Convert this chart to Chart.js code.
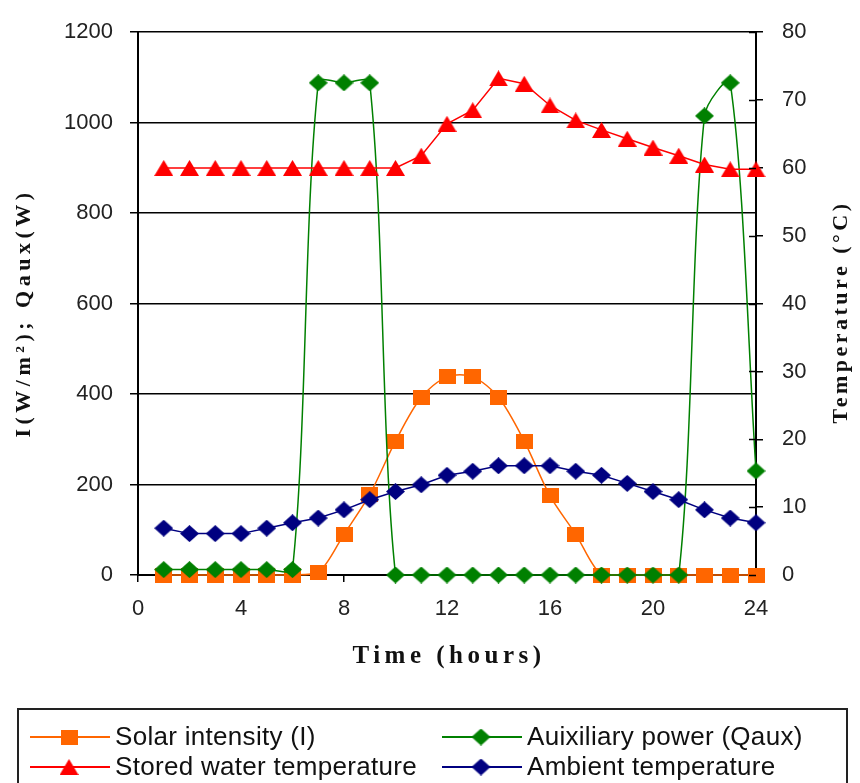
<!DOCTYPE html>
<html>
<head>
<meta charset="utf-8">
<script src="https://cdn.jsdelivr.net/npm/chart.js@4.4.1/dist/chart.umd.min.js"></script>
<style>
  html, body { margin: 0; padding: 0; background: #fff; }
  #wrap { width: 860px; height: 783px; position: relative; }
</style>
</head>
<body>
<div id="wrap"><canvas id="chart"></canvas></div>
<script>
// hours of the day
const hours = [1, 2, 3, 4, 5, 6, 7, 8, 9, 10, 11, 12, 13, 14, 15, 16, 17, 18, 19, 20, 21, 22, 23, 24];

// left axis, W/m2 and W
const solarIntensity = [0, 0, 0, 0, 0, 0, 5, 90, 178, 296, 393, 438, 438, 393, 296, 175, 90, 0, 0, 0, 0, 0, 0, 0];
const auxPower = [12, 12, 12, 12, 12, 12, 1088, 1088, 1088, 0, 0, 0, 0, 0, 0, 0, 0, 0, 0, 0, 0, 1015, 1088, 230];

// right axis, deg C
const storedWaterTemp = [60, 60, 60, 60, 60, 60, 60, 60, 60, 60, 61.8, 66.5, 68.5, 73.2, 72.4, 69.2, 67.0, 65.6, 64.3, 63.0, 61.8, 60.5, 59.8, 59.8];
const ambientTemp = [6.9, 6.1, 6.1, 6.1, 6.9, 7.7, 8.4, 9.6, 11.1, 12.3, 13.3, 14.7, 15.3, 16.1, 16.1, 16.1, 15.3, 14.7, 13.5, 12.3, 11.1, 9.6, 8.4, 7.7];

// axis ranges
const xRange = [0, 24, 4];
const powerRange = [0, 1200, 200];
const tempRange = [0, 80, 10];

const seriesNames = ['Solar intensity (I)', 'Auixiliary power (Qaux)', 'Stored water temperature', 'Ambient temperature'];

const toPoints = vals => hours.map((h, i) => ({ x: h, y: vals[i] }));

function marker(shape, w, h, color) {
  const c = document.createElement('canvas');
  c.width = w; c.height = h;
  const g = c.getContext('2d');
  g.fillStyle = color;
  g.beginPath();
  if (shape === 'square') {
    g.rect(0, 0, w, h);
  } else if (shape === 'diamond') {
    g.moveTo(w / 2, 0); g.lineTo(w, h / 2); g.lineTo(w / 2, h); g.lineTo(0, h / 2);
  } else {
    g.moveTo(w / 2, 0); g.lineTo(w, h); g.lineTo(0, h);
  }
  g.closePath();
  g.fill();
  return c;
}

const ORANGE = '#ff6600', GREEN = '#008000', RED = '#ff0000', NAVY = '#000080';

const markers = [
  marker('square', 17, 15, ORANGE),
  marker('diamond', 19, 17, GREEN),
  marker('triangle', 19, 16, RED),
  marker('diamond', 19, 17, NAVY)
];

const tickFont = { family: "'Liberation Sans', Arial, sans-serif", size: 22 };
const plainNumber = v => String(v);

// titles, inner right ticks and the boxed legend
const decorations = {
  id: 'decorations',
  afterDraw(chart) {
    const ctx = chart.ctx;
    const area = chart.chartArea;
    const yR = chart.scales.yTemp;
    ctx.save();

    ctx.strokeStyle = '#000';
    ctx.lineWidth = 1.5;
    yR.ticks.forEach(t => {
      const y = Math.round(yR.getPixelForValue(t.value)) + 0.5;
      ctx.beginPath();
      ctx.moveTo(area.right - 7, y);
      ctx.lineTo(area.right, y);
      ctx.stroke();
    });

    ctx.fillStyle = '#111';
    ctx.textAlign = 'center';
    ctx.font = "bold 25px 'Liberation Serif', 'Times New Roman', serif";
    ctx.letterSpacing = '4.5px';
    ctx.textBaseline = 'alphabetic';
    ctx.fillText('Time (hours)', (area.left + area.right) / 2 + 2, area.bottom + 88);

    ctx.font = "bold 22px 'Liberation Serif', 'Times New Roman', serif";
    ctx.textBaseline = 'middle';
    ctx.letterSpacing = '4.5px';
    ctx.save();
    ctx.translate(24, 313);
    ctx.rotate(-Math.PI / 2);
    ctx.fillText('I(W/m²); Qaux(W)', 0, 0);
    ctx.restore();

    ctx.letterSpacing = '3.5px';
    ctx.save();
    ctx.translate(841, 312);
    ctx.rotate(-Math.PI / 2);
    ctx.fillText('Temperature (°C)', 0, 0);
    ctx.restore();

    // legend
    ctx.letterSpacing = '0.3px';
    ctx.strokeStyle = '#222';
    ctx.lineWidth = 2;
    ctx.strokeRect(18, 709, 829, 120);
    const cols = [30, 442];
    const rows = [737, 767];
    ctx.font = "26px 'Liberation Sans', Arial, sans-serif";
    ctx.textAlign = 'left';
    chart.data.datasets.forEach((ds, i) => {
      const x0 = cols[i % 2];
      const y = rows[Math.floor(i / 2)];
      ctx.strokeStyle = ds.borderColor;
      ctx.lineWidth = 2;
      ctx.beginPath();
      ctx.moveTo(x0, y);
      ctx.lineTo(x0 + 80, y);
      ctx.stroke();
      const m = markers[i];
      ctx.drawImage(m, x0 + 39 - m.width / 2, y - m.height / 2);
      ctx.fillStyle = '#111';
      ctx.fillText(ds.label, x0 + 85, y + 1);
    });
    ctx.restore();
  }
};

new Chart(document.getElementById('chart'), {
  type: 'line',
  data: {
    datasets: [
      {
        label: seriesNames[0], data: toPoints(solarIntensity), yAxisID: 'yPower',
        borderColor: ORANGE, borderWidth: 1.5, tension: 0.3, pointStyle: markers[0], order: 3
      },
      {
        label: seriesNames[1], data: toPoints(auxPower), yAxisID: 'yPower',
        borderColor: GREEN, borderWidth: 1.5, tension: 0.3, pointStyle: markers[1], order: 2
      },
      {
        label: seriesNames[2], data: toPoints(storedWaterTemp), yAxisID: 'yTemp',
        borderColor: RED, borderWidth: 1.5, tension: 0, pointStyle: markers[2], order: 0
      },
      {
        label: seriesNames[3], data: toPoints(ambientTemp), yAxisID: 'yTemp',
        borderColor: NAVY, borderWidth: 1.5, tension: 0, pointStyle: markers[3], order: 1
      }
    ]
  },
  options: {
    responsive: true,
    maintainAspectRatio: false,
    animation: false,
    clip: false,
    layout: { padding: { top: 30, left: 0, right: 0, bottom: 0 } },
    plugins: { legend: { display: false }, tooltip: { enabled: false } },
    scales: {
      x: {
        type: 'linear', min: xRange[0], max: xRange[1],
        ticks: { stepSize: xRange[2], font: tickFont, color: '#222', padding: 14, maxRotation: 0, callback: plainNumber },
        grid: { drawOnChartArea: false, drawTicks: true, tickLength: 7, color: '#000', lineWidth: 1.5 },
        border: { display: true, color: '#000', width: 2 },
        afterFit: s => { s.height = 208; }
      },
      yPower: {
        position: 'left', min: powerRange[0], max: powerRange[1],
        ticks: { stepSize: powerRange[2], font: tickFont, color: '#222', padding: 17, callback: plainNumber },
        grid: { drawOnChartArea: true, drawTicks: true, tickLength: 8, color: '#000', lineWidth: 1.5 },
        border: { display: true, color: '#000', width: 2 },
        afterFit: s => { s.width = 138; }
      },
      yTemp: {
        position: 'right', min: tempRange[0], max: tempRange[1],
        ticks: { stepSize: tempRange[2], font: tickFont, color: '#222', padding: 19, callback: plainNumber },
        grid: { drawOnChartArea: false, drawTicks: true, tickLength: 7, color: '#000', lineWidth: 1.5 },
        border: { display: true, color: '#000', width: 2 },
        afterFit: s => { s.width = 104; }
      }
    }
  },
  plugins: [decorations]
});
</script>
</body>
</html>
